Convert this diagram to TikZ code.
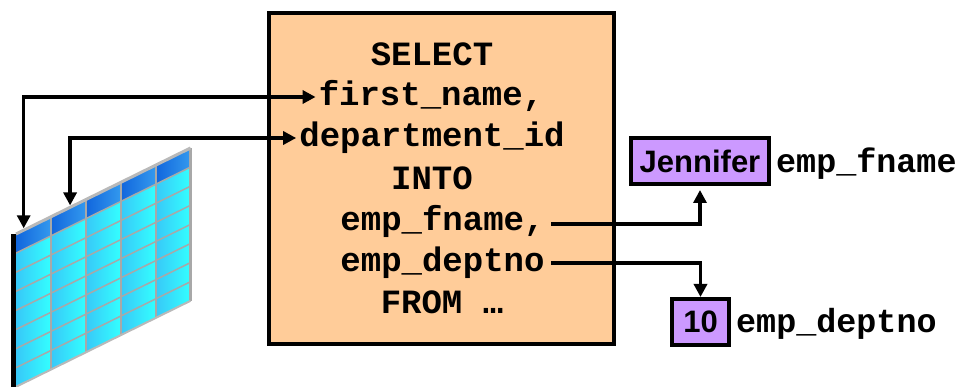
\documentclass[tikz,border=0pt]{standalone}
\usepackage{fontspec}
\setmonofont{Liberation Mono}
\setsansfont{Liberation Sans}
\usetikzlibrary{arrows.meta}
\definecolor{boxfill}{HTML}{FFCC99}
\definecolor{valfill}{HTML}{CC99FF}
\definecolor{cellA}{HTML}{38C8F8}
\definecolor{cellB}{HTML}{33FFFF}
\definecolor{headA}{HTML}{1166DD}
\definecolor{headB}{HTML}{3399EE}
\definecolor{gridc}{HTML}{A8A8A8}
\tikzset{
  code/.style={font=\ttfamily\bfseries\fontsize{34}{40}\selectfont,inner sep=0pt,anchor=base,text height=25pt,text depth=7pt},
  varname/.style={code,font=\ttfamily\bfseries\fontsize{33.4}{40}\selectfont,anchor=base west},
  valbox/.style={draw=black,line width=4pt,fill=valfill,font=\sffamily\bfseries\fontsize{31}{36}\selectfont,inner sep=0pt,outer sep=0pt},
  conn/.style={line width=3.4pt,-{Triangle[length=13pt,width=13pt]}},
  conn2/.style={line width=3.4pt,{Triangle[length=13pt,width=13pt]}-{Triangle[length=13pt,width=13pt]}},
}
% cell: #1 column, #2 row, #3 left colour, #4 right colour
\newcommand{\tblcell}[4]{%
  \pgfmathsetmacro{\xa}{16+34.9*#1}%
  \pgfmathsetmacro{\xb}{16+34.9*(#1+1)}%
  \pgfmathsetmacro{\ya}{234-17.2*#1+19.1*#2}%
  \pgfmathsetmacro{\yb}{234-17.2*(#1+1)+19.1*#2}%
  \pgfmathsetmacro{\yc}{\yb+19.1}%
  \pgfmathsetmacro{\yd}{\ya+19.1}%
  \begin{scope}
    \clip (\xa,\ya) -- (\xb,\yb) -- (\xb,\yc) -- (\xa,\yd) -- cycle;
    \shade[left color=#3,right color=#4] (\xa,\yb) rectangle (\xb,\yd);
  \end{scope}}
\begin{document}
\begin{tikzpicture}[x=1pt,y=-1pt]
\useasboundingbox (0,0) rectangle (959,387);
% table cells
\foreach \c in {0,...,4} {
  \tblcell{\c}{0}{headA}{headB}
  \foreach \r in {1,...,7} { \tblcell{\c}{\r}{cellA}{cellB} }
}
% table grid
\begin{scope}[shift={(16,234)},x={(34.9pt,17.2pt)},y={(0pt,-19.1pt)}]
  \foreach \r in {1,...,7} \draw[gridc,line width=1.5pt] (0,\r) -- (5,\r);
  \foreach \c in {1,...,5} \draw[gridc,line width=2.2pt] (\c,0) -- (\c,8);
  \draw[gridc!80,line width=3pt] (0,0) -- (5,0);
  \draw[gridc!80,line width=2pt] (0,8) -- (5,8);
  \coordinate (t1) at (.22,-.1);
  \coordinate (t2) at (1.55,-.1);
\end{scope}
\fill[black] (11,234) rectangle (16,387);
% main box
\node[draw=black,line width=4pt,fill=boxfill,inner sep=0pt,outer sep=0pt,minimum width=345pt,minimum height=331pt,anchor=north west] (main) at (269,13) {};
% code
\node[code] (sel) at (432,65.5) {SELECT};
\node[code] (fn) at (431,106) {first\_name,};
\node[code] (dep) at (432,147) {department\_id};
\node[code] (into) at (432,189.5) {INTO};
\node[code] (efn) at (442.5,230.5) {emp\_fname,};
\node[code] (edn) at (442.5,271.5) {emp\_deptno};
\node[code] (from) at (442,313.5) {FROM …};
% values
\node[valbox,minimum width=138pt,minimum height=46pt] (jen) at (700,161) {Jennifer};
\node[valbox,minimum width=57pt,minimum height=46pt] (ten) at (700.5,322) {10};
\node[varname] (v1) at (776,173) {emp\_fname};
\node[varname] (v2) at (736,333) {emp\_deptno};
% connectors
\draw[conn2] ([xshift=-3pt]fn.west) -| (t1);
\draw[conn2] ([xshift=-3pt]dep.west) -| (t2);
\coordinate (s1) at (551,224);
\coordinate (s2) at (551,263);
\draw[conn,shorten >=6pt] (s1) -| (jen.south);
\draw[conn,shorten >=2pt] (s2) -| (ten.north);
\end{tikzpicture}
\end{document}
